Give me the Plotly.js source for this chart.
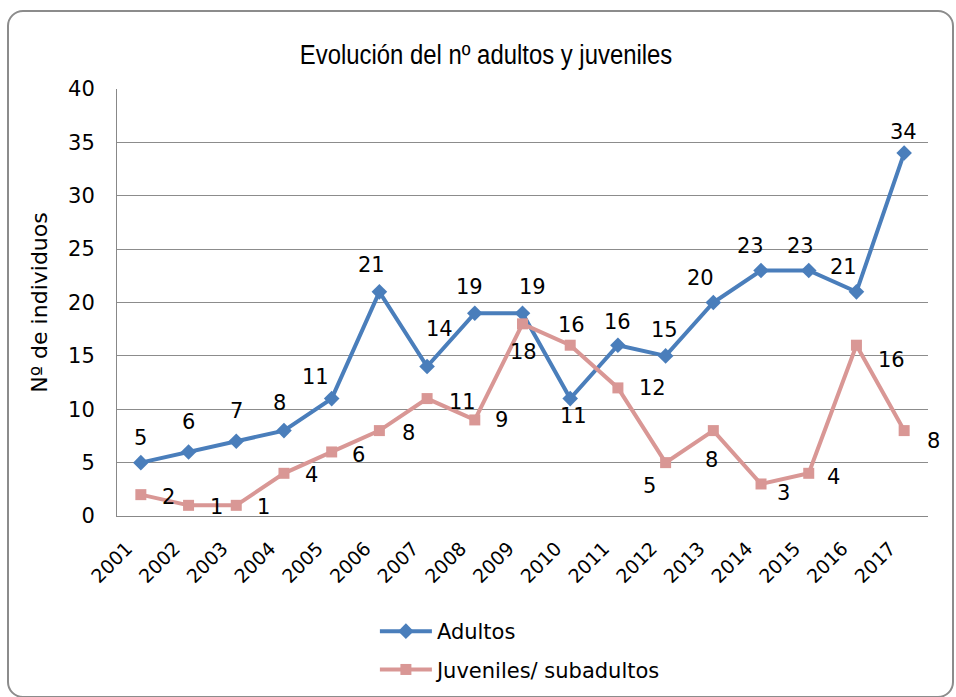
<!DOCTYPE html>
<html>
<head>
<meta charset="utf-8">
<script src="https://cdn.plot.ly/plotly-3.0.1.min.js"></script>
<style>
  html, body { margin: 0; padding: 0; background: #fff; overflow: hidden; }
  #wrap { position: relative; width: 956px; height: 697px; }
  #frame { position: absolute; left: 7px; top: 10px; width: 943px; height: 684px;
           border: 2px solid #8c8c8c; border-radius: 16px; pointer-events: none; z-index: 5; }
  #chart { position: absolute; left: 0; top: 0; width: 956px; height: 697px; }
</style>
</head>
<body>
<div id="wrap">
  <div id="chart"></div>
  <div id="frame"></div>
</div>
<script>
const years = ['2001','2002','2003','2004','2005','2006','2007','2008','2009','2010','2011','2012','2013','2014','2015','2016','2017'];
const adultos = [5,6,7,8,11,21,14,19,19,11,16,15,20,23,23,21,34];
const juveniles = [2,1,1,4,6,8,11,9,18,16,12,5,8,3,4,16,8];
const yTicks = [0,5,10,15,20,25,30,35,40];

// label offsets in pixels (style only)
const adShiftX = [0,0,0,-4,-16,-8,12,-5,10,3,0,-1,-13,-11,-8,-13,-1];
const adShiftY = [25,30,30,28,22,27,38,26,26,-17,23,26,25,24,24,25,21];
const juShiftX = [28,28,27,28,27,29,35,27,1,1,35,-16,-2,22,25,35,29];
const juShiftY = [-2,-2,-2,-2,-3,-2,-3,0,-28,20,0,-23,-29,-9,-4,-15,-10];

const fontFam = '"DejaVu Sans", Verdana, sans-serif';
const blue = '#4a7ebb';
const pink = '#d99795';
const fs = 21;

const annotations = [];
for (let i = 0; i < years.length; i++) {
  annotations.push({xref: 'x', yref: 'y', x: i, y: adultos[i], text: String(adultos[i]), showarrow: false,
    xshift: adShiftX[i], yshift: adShiftY[i], font: {family: fontFam, size: fs, color: '#000'}});
  annotations.push({xref: 'x', yref: 'y', x: i, y: juveniles[i], text: String(juveniles[i]), showarrow: false,
    xshift: juShiftX[i], yshift: juShiftY[i], font: {family: fontFam, size: fs, color: '#000'}});
}

const traces = [
  {x: years, y: adultos, name: 'Adultos', type: 'scatter', mode: 'lines+markers', legendgroup: 'a',
   line: {color: blue, width: 4}, marker: {symbol: 'diamond', size: 12, color: blue}},
  {x: years, y: juveniles, name: 'Juveniles/ subadultos', type: 'scatter', mode: 'lines+markers', legendgroup: 'b',
   line: {color: pink, width: 4}, marker: {symbol: 'square', size: 11, color: pink}}
];

const layout = {
  width: 956, height: 697,
  margin: {l: 117, r: 28, t: 89, b: 181, autoexpand: false},
  paper_bgcolor: '#fff', plot_bgcolor: '#fff',
  font: {family: fontFam, size: fs, color: '#000'},
  title: {text: 'Evolución del nº adultos y juveniles', xref: 'container', x: 0.5084, xanchor: 'center',
          yref: 'container', y: 0.922, yanchor: 'middle', automargin: false,
          font: {family: '"Liberation Sans", Arial, sans-serif', size: 27, color: '#000'}},
  xaxis: {type: 'category', range: [-0.5, 16.5], tickangle: -45, showgrid: false, automargin: false,
          showline: true, linecolor: '#888', linewidth: 1, ticks: '', zeroline: false,
          ticklabelstandoff: 13, ticklabelshift: -14,
          tickfont: {family: fontFam, size: 19, color: '#000'}},
  yaxis: {range: [0, 40], tickvals: yTicks, showgrid: true, gridcolor: '#8c8c8c', gridwidth: 1,
          showline: true, linecolor: '#888', linewidth: 1, ticks: '', zeroline: false, automargin: false,
          ticklabelstandoff: 17,
          tickfont: {family: fontFam, size: fs, color: '#000'},
          title: {text: 'Nº de individuos', standoff: 14, font: {family: fontFam, size: 22, color: '#000'}}},
  showlegend: true,
  legend: {orientation: 'v', x: 0.318, xanchor: 'left', y: -0.2225, yanchor: 'top', traceorder: 'grouped',
           font: {family: fontFam, size: fs, color: '#000'}, tracegroupgap: 8, itemwidth: 52,
           bgcolor: 'rgba(0,0,0,0)'},
  annotations: annotations
};

Plotly.newPlot('chart', traces, layout, {displayModeBar: false}).then(function (gd) {
  // condense the title horizontally to mimic the narrow title face
  const t = gd.querySelector('.gtitle');
  if (t) {
    const cx = parseFloat(t.getAttribute('x'));
    t.setAttribute('transform', 'translate(' + cx + ',0) scale(0.885,1) translate(' + (-cx) + ',0)');
  }
});
</script>
</body>
</html>
